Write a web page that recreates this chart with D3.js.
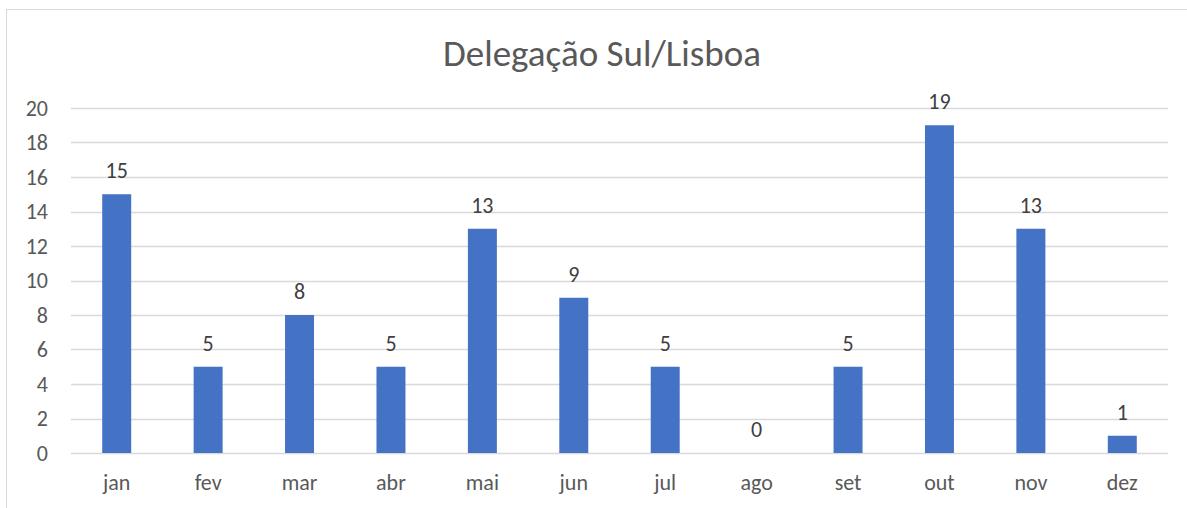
<!DOCTYPE html>
<html>
<head>
<meta charset="utf-8">
<script src="https://cdn.jsdelivr.net/npm/d3@7"></script>
<style>
  body { margin: 0; background: #fff; }
  text { font-family: Calibri, Carlito, "Open Sans", "Noto Sans", sans-serif; }
</style>
</head>
<body>
<div class="chart"></div>
<script>
var months = ["jan", "fev", "mar", "abr", "mai", "jun", "jul", "ago", "set", "out", "nov", "dez"];
var counts = [15, 5, 8, 5, 13, 9, 5, 0, 5, 19, 13, 1];
var yTicks = [0, 2, 4, 6, 8, 10, 12, 14, 16, 18, 20];
var chartTitle = "Delegação Sul/Lisboa";

var svgWidth = 1187;
var svgHeight = 508;
var margin = { top: 108, right: 19, bottom: 55, left: 71 };
var width = svgWidth - margin.left - margin.right;
var height = svgHeight - margin.top - margin.bottom;

var svg = d3.select(".chart")
  .append("svg")
  .attr("width", svgWidth)
  .attr("height", svgHeight);

// chart area border (top and left visible)
svg.append("rect")
  .attr("x", 6.5)
  .attr("y", 9.5)
  .attr("width", 1200)
  .attr("height", 600)
  .attr("fill", "none")
  .attr("stroke", "#d9d9d9");

svg.append("text")
  .attr("x", 602)
  .attr("y", 66)
  .attr("text-anchor", "middle")
  .style("font-size", "37px")
  .style("fill", "#595959")
  .text(chartTitle);

var chart = svg.append("g")
  .attr("transform", "translate(" + margin.left + "," + margin.top + ")");

var xScale = d3.scaleBand().domain(months).range([0, width]).paddingInner(0.683).paddingOuter(0.3415);
var yScale = d3.scaleLinear().domain([0, 20]).range([height, 0]);

// gridlines
chart.append("g")
  .selectAll("line")
  .data(yTicks)
  .enter()
  .append("line")
  .attr("x1", 0)
  .attr("x2", width)
  .attr("y1", function(d) { return Math.round(yScale(d)) + 0.5; })
  .attr("y2", function(d) { return Math.round(yScale(d)) + 0.5; })
  .attr("stroke", "#d9d9d9")
  .attr("stroke-width", 1.5);

// y axis labels
var leftAxis = d3.axisLeft(yScale).tickValues(yTicks).tickSize(0).tickPadding(23);
chart.append("g")
  .attr("class", "y-axis")
  .call(leftAxis)
  .call(function(g) { g.select(".domain").remove(); })
  .selectAll("text")
  .style("font-size", "22px")
  .style("fill", "#595959")
  .style("font-family", "Calibri, Carlito, 'Open Sans', sans-serif");

// x axis labels
var bottomAxis = d3.axisBottom(xScale).tickSize(0).tickPadding(21);
chart.append("g")
  .attr("class", "x-axis")
  .attr("transform", "translate(0," + height + ")")
  .call(bottomAxis)
  .call(function(g) { g.select(".domain").remove(); })
  .selectAll("text")
  .style("font-size", "22px")
  .style("fill", "#595959")
  .style("font-family", "Calibri, Carlito, 'Open Sans', sans-serif");

// bars
chart.selectAll("rect.bar")
  .data(counts)
  .enter()
  .append("rect")
  .attr("class", "bar")
  .attr("x", function(d, i) { return xScale(months[i]); })
  .attr("y", function(d) { return yScale(d); })
  .attr("width", xScale.bandwidth())
  .attr("height", function(d) { return height - yScale(d); })
  .attr("fill", "#4472c4");

// data labels
chart.selectAll("text.val")
  .data(counts)
  .enter()
  .append("text")
  .attr("class", "val")
  .attr("x", function(d, i) { return xScale(months[i]) + xScale.bandwidth() / 2; })
  .attr("y", function(d) { return yScale(d) - 16; })
  .attr("text-anchor", "middle")
  .style("font-size", "22px")
  .style("fill", "#404040")
  .text(function(d) { return d; });
</script>
</body>
</html>
